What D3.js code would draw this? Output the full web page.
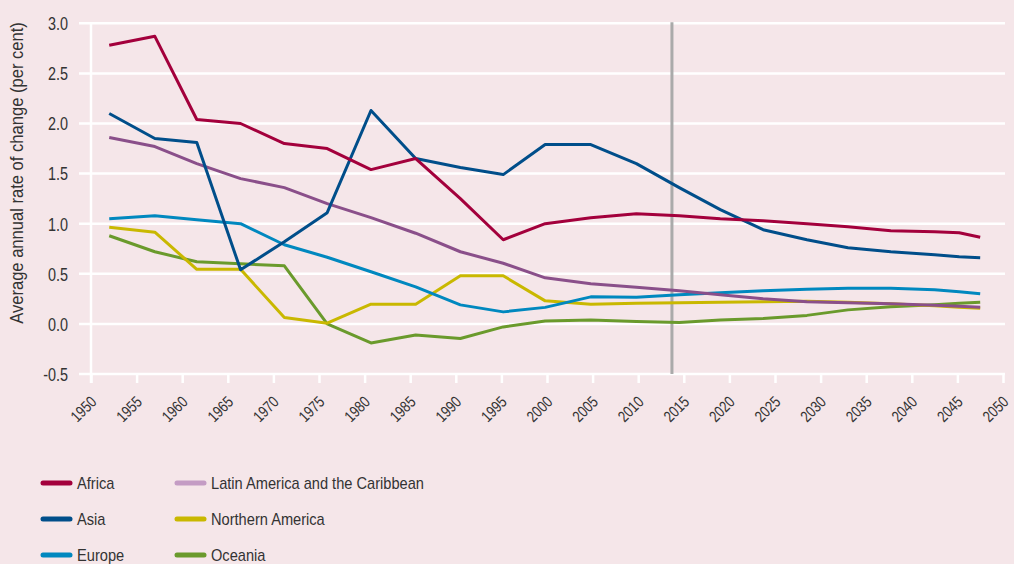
<!DOCTYPE html>
<html>
<head>
<meta charset="utf-8">
<script src="https://cdn.jsdelivr.net/npm/d3@7"></script>
<style>
  body { margin: 0; background: #f5e6e9; }
  svg { display: block; font-family: "Liberation Sans", Arial, sans-serif; }
</style>
</head>
<body>
<svg id="chart"></svg>
<script>
// x positions of the plotted points (years)
let years = [1952, 1957, 1961.6, 1966.4, 1971.2, 1975.9, 1980.7, 1985.6, 1990.5, 1995.2, 1999.8,
             2004.8, 2009.8, 2014.5, 2019, 2023.7, 2028.5, 2033, 2037.7, 2042.5, 2045.2, 2047.5]

let africa   = [2.78, 2.87, 2.04, 2.00, 1.80, 1.75, 1.54, 1.65, 1.25, 0.84, 1.00,
                1.06, 1.10, 1.08, 1.05, 1.03, 1.00, 0.97, 0.93, 0.92, 0.91, 0.865]
let asia     = [2.10, 1.85, 1.81, 0.54, 0.82, 1.11, 2.13, 1.65, 1.56, 1.49, 1.79,
                1.79, 1.60, 1.36, 1.14, 0.94, 0.84, 0.76, 0.72, 0.69, 0.67, 0.66]
let europe   = [1.05, 1.08, 1.04, 1.00, 0.79, 0.665, 0.52, 0.37, 0.19, 0.12, 0.165,
                0.27, 0.265, 0.29, 0.31, 0.33, 0.345, 0.355, 0.355, 0.34, 0.32, 0.30]
let latinAm  = [1.86, 1.77, 1.60, 1.45, 1.36, 1.20, 1.06, 0.905, 0.72, 0.605, 0.46,
                0.40, 0.365, 0.33, 0.29, 0.25, 0.22, 0.21, 0.20, 0.185, 0.175, 0.165]
let northAm  = [0.965, 0.915, 0.545, 0.545, 0.063, 0.007, 0.197, 0.197, 0.48, 0.48, 0.23,
                0.197, 0.205, 0.21, 0.215, 0.22, 0.225, 0.215, 0.20, 0.18, 0.165, 0.155]
let oceania  = [0.88, 0.72, 0.62, 0.60, 0.58, 0.00, -0.19, -0.11, -0.145, -0.03, 0.03,
                0.04, 0.025, 0.015, 0.04, 0.055, 0.085, 0.14, 0.17, 0.19, 0.205, 0.215]

let projectionStart = 2013.7

let yTicks = [-0.5, 0.0, 0.5, 1.0, 1.5, 2.0, 2.5, 3.0]
let xTicks = d3.range(1950, 2051, 5)

let series = [
  { name: 'Africa', values: africa, color: '#a3003c', legend: '#a3003c' },
  { name: 'Asia', values: asia, color: '#004e8a', legend: '#004e8a' },
  { name: 'Europe', values: europe, color: '#0088bf', legend: '#0088bf' },
  { name: 'Latin America and the Caribbean', values: latinAm, color: '#8a4f8a', legend: '#c49cc4' },
  { name: 'Northern America', values: northAm, color: '#c9b800', legend: '#c9b800' },
  { name: 'Oceania', values: oceania, color: '#6a9a2c', legend: '#6a9a2c' }
]
// draw order (first drawn sits underneath)
let drawOrder = ['Oceania', 'Northern America', 'Europe', 'Latin America and the Caribbean', 'Asia', 'Africa']

let width = 1014
let height = 564

let svg = d3.select('#chart')
  .attr('width', width)
  .attr('height', height)

let xScale = d3.scaleLinear().domain([1950, 2050]).range([91, 1003])
let yScale = d3.scaleLinear().domain([-0.5, 3.0]).range([374, 23.3])

// squeeze text horizontally to mimic the condensed face of the original
function condense(sel, k) {
  sel.each(function() {
    let len = this.getComputedTextLength()
    d3.select(this).attr('textLength', len * k).attr('lengthAdjust', 'spacingAndGlyphs')
  })
}

/* grid */
svg.append('g')
  .selectAll('line')
  .data(yTicks)
  .enter()
  .append('line')
  .attr('x1', 79)
  .attr('x2', 1005)
  .attr('y1', d => yScale(d))
  .attr('y2', d => yScale(d))
  .attr('stroke', '#fff')
  .attr('stroke-width', 2.5)

/* y axis */
let yAxis = svg.append('g')
  .attr('transform', `translate(${xScale(1950)},0)`)
  .call(d3.axisLeft(yScale).tickValues(yTicks).tickSize(0).tickPadding(23)
    .tickFormat(d => d3.format('.1f')(d).replace('\u2212', '-')))
yAxis.select('.domain').attr('stroke', '#fff').attr('stroke-width', 2.5)
  .attr('d', `M0,${yScale(3.0)}V${yScale(-0.5) + 9}`)
yAxis.selectAll('text').attr('font-size', 18).attr('fill', '#333').attr('dy', '0.35em')
  .attr('font-family', '"Liberation Sans", Arial, sans-serif')
  .call(condense, 0.8)

/* x axis */
let xAxis = svg.append('g')
  .attr('transform', `translate(0,${yScale(-0.5)})`)
  .call(d3.axisBottom(xScale).tickValues(xTicks).tickSize(9).tickFormat(d3.format('d')))
xAxis.select('.domain').remove()
xAxis.selectAll('line').attr('stroke', '#fff').attr('stroke-width', 2.5)
xAxis.selectAll('text')
  .attr('font-size', 16)
  .attr('fill', '#333')
  .attr('font-family', '"Liberation Sans", Arial, sans-serif')
  .attr('text-anchor', 'end')
  .attr('transform', 'translate(2,25) rotate(-45)')
  .attr('x', 0)
  .attr('y', 0)
  .attr('dy', '0.35em')
  .call(condense, 0.8)

/* y title */
svg.append('text')
  .attr('transform', 'translate(23,173) rotate(-90)')
  .attr('text-anchor', 'middle')
  .attr('font-size', 18)
  .attr('fill', '#333')
  .text('Average annual rate of change (per cent)')
  .call(condense, 0.92)

/* projection marker */
svg.append('line')
  .attr('x1', xScale(projectionStart))
  .attr('x2', xScale(projectionStart))
  .attr('y1', yScale(3.0) - 1)
  .attr('y2', yScale(-0.5))
  .attr('stroke', '#aaaaaa')
  .attr('stroke-width', 3)

/* lines */
let line = d3.line()
  .x((d, i) => xScale(years[i]))
  .y(d => yScale(d))

svg.append('g')
  .selectAll('path')
  .data(drawOrder.map(n => series.find(s => s.name === n)))
  .enter()
  .append('path')
  .attr('d', d => line(d.values))
  .attr('fill', 'none')
  .attr('stroke', d => d.color)
  .attr('stroke-width', 3)
  .attr('stroke-linejoin', 'round')

/* legend */
let legend = svg.append('g')
let item = legend.selectAll('g')
  .data(series)
  .enter()
  .append('g')
  .attr('transform', (d, i) => `translate(${i < 3 ? 43 : 177},${483 + (i % 3) * 36})`)
item.append('line')
  .attr('x1', 0)
  .attr('x2', 27)
  .attr('stroke', d => d.legend)
  .attr('stroke-width', 5)
  .attr('stroke-linecap', 'round')
item.append('text')
  .attr('x', 34)
  .attr('dy', '0.35em')
  .attr('font-size', 17)
  .attr('fill', '#333')
  .text(d => d.name)
  .call(condense, 0.86)
</script>
</body>
</html>
